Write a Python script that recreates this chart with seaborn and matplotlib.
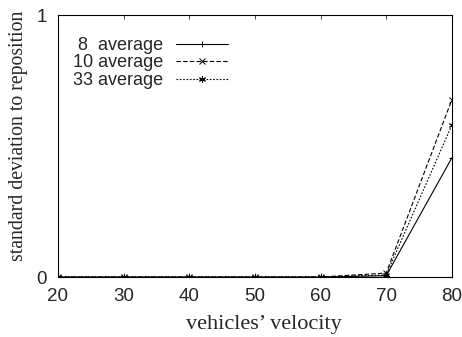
import matplotlib
matplotlib.use("Agg")
import matplotlib.pyplot as plt
import seaborn as sns
import pandas as pd

velocity = [20, 30, 40, 50, 60, 70, 80]
avg8 = [0, 0, 0, 0, 0, 0.005, 0.455]
avg10 = [0, 0, 0, 0, 0, 0.015, 0.677]
avg33 = [0, 0, 0, 0, 0, 0.008, 0.58]
labels = ["8  average", "10 average", "33 average"]

sns.set_style("ticks")
plt.rcParams['font.family'] = ['Liberation Sans', 'DejaVu Sans']

rows = []
for lab, vals in zip(labels, [avg8, avg10, avg33]):
    for v, y in zip(velocity, vals):
        rows.append({"velocity": v, "value": y, "series": lab})
df = pd.DataFrame(rows)

fig = plt.figure(figsize=(4.62, 3.37), dpi=100)
ax = fig.add_axes([0.1255, 0.178, 0.8525, 0.777])

styles = {labels[0]: ("-", "+"), labels[1]: ((0, (4, 2)), "x"), labels[2]: ((0, (1.5, 1.5)), (6, 2, 0))}
for lab in labels:
    d = df[df.series == lab]
    ls, mk = styles[lab]
    sns.lineplot(data=d, x="velocity", y="value", ax=ax, color="black", lw=0.8,
                 linestyle=ls, marker=mk, markersize=5, markeredgewidth=0.7,
                 markeredgecolor="black", label=lab)

ax.set_xlim(20, 80)
ax.set_ylim(0, 1)
ax.set_xticks([20, 30, 40, 50, 60, 70, 80])
ax.set_yticks([0, 1])
ax.tick_params(labelsize=13.5, direction="in", length=3, width=0.6, top=True, right=True)
ax.tick_params(axis="x", pad=8)
ax.tick_params(axis="y", pad=8)
for s in ax.spines.values():
    s.set_linewidth(0.8)
    s.set_color("black")
ax.set_xlabel("vehicles\u2019 velocity", family="Liberation Serif", fontsize=16)
ax.set_ylabel("standard deviation to reposition", family="Liberation Serif", fontsize=14.2)
ax.xaxis.set_label_coords(0.523, -0.145)
ax.yaxis.set_label_coords(-0.076, 0.54)

leg = ax.legend(loc="upper left", bbox_to_anchor=(0.038, 0.917), frameon=False,
                markerfirst=False, fontsize=13, handlelength=2.9, labelspacing=0.03,
                handletextpad=0.7, borderaxespad=0.0, borderpad=0.0)
fig.savefig("out.png", dpi=100)
